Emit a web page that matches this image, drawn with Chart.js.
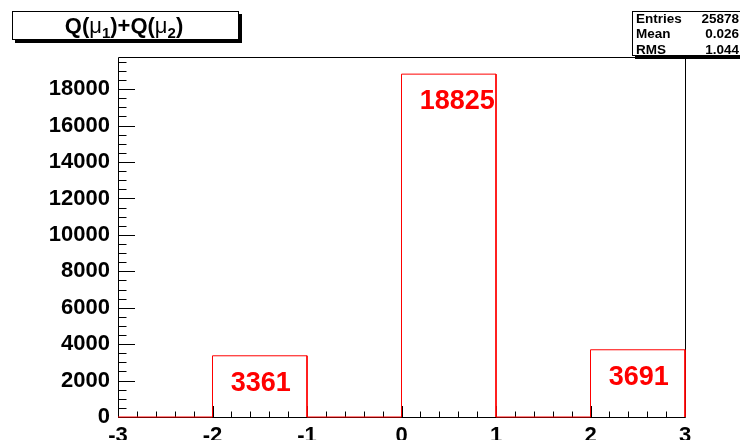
<!DOCTYPE html>
<html>
<head>
<meta charset="utf-8">
<script src="https://cdn.jsdelivr.net/npm/chart.js@4"></script>
<style>
html,body{margin:0;padding:0;background:#fff;overflow:hidden;}
canvas{display:block;}
</style>
</head>
<body>
<canvas id="c" width="740" height="440"></canvas>
<script>
// ---- data ----
const binEdges = [-3, -2, -1, 0, 1, 2, 3];
const binCounts = [0, 3361, 0, 18825, 0, 3691];
const xTickValues = [-3, -2, -1, 0, 1, 2, 3];
const yTickValues = [0, 2000, 4000, 6000, 8000, 10000, 12000, 14000, 16000, 18000];
const yMax = 19766;
const titleParts = [['Q(', 'main'], ['\u03bc', 'greek'], ['1', 'sub'], [')+Q(', 'main'], ['\u03bc', 'greek'], ['2', 'sub'], [')', 'main']];
const statsLabels = ['Entries', 'Mean', 'RMS'];
const statsValues = ['25878', '0.026', '1.044'];

// step outline points built from the bins
const stepPoints = [{x: binEdges[0], y: 0}];
for (let i = 0; i < binCounts.length; i++) {
  stepPoints.push({x: binEdges[i], y: binCounts[i]});
  stepPoints.push({x: binEdges[i + 1], y: binCounts[i]});
}
stepPoints.push({x: binEdges[binEdges.length - 1], y: 0});

const FONT = '"Liberation Sans", Arial, Helvetica, sans-serif';

const framePlugin = {
  id: 'frame',
  beforeDatasetsDraw(chart) {
    const {ctx, chartArea: a, scales: {x, y}} = chart;
    ctx.save();
    ctx.strokeStyle = '#000';
    ctx.lineWidth = 1;
    // frame
    ctx.beginPath();
    ctx.moveTo(a.left + 0.5, a.top + 0.5);
    ctx.lineTo(a.right + 0.5, a.top + 0.5);
    ctx.lineTo(a.right + 0.5, a.bottom + 0.5);
    ctx.lineTo(a.left + 0.5, a.bottom + 0.5);
    ctx.closePath();
    ctx.stroke();
    // y ticks (major + 3 minor)
    const yl = 17, xl = 11;
    ctx.beginPath();
    for (let v = 0; v <= yMax; v += 500) {
      const py = Math.round(y.getPixelForValue(v)) + 0.5;
      const len = (v % 2000 === 0) ? yl : yl / 2;
      ctx.moveTo(a.left, py);
      ctx.lineTo(a.left + len, py);
    }
    // x ticks (major + 4 minor)
    for (let i = 0; i <= 30; i++) {
      const v = -3 + i * 0.2;
      const px = Math.round(x.getPixelForValue(v)) + 0.5;
      const len = (i % 5 === 0) ? xl : xl / 2;
      ctx.moveTo(px, a.bottom);
      ctx.lineTo(px, a.bottom - len);
    }
    ctx.stroke();
    ctx.restore();
  },
  afterDatasetsDraw(chart) {
    const {ctx, scales: {x, y}} = chart;
    ctx.save();
    ctx.fillStyle = '#ff0000';
    ctx.font = 'bold 27px ' + FONT;
    ctx.textAlign = 'left';
    ctx.textBaseline = 'alphabetic';
    for (let i = 0; i < binCounts.length; i++) {
      if (!binCounts[i]) continue;
      const cx = x.getPixelForValue((binEdges[i] + binEdges[i + 1]) / 2);
      const top = y.getPixelForValue(binCounts[i]);
      ctx.fillText(String(binCounts[i]), cx - 29, top + 35);
    }
    ctx.restore();
  },
  afterDraw(chart) {
    const ctx = chart.ctx;
    ctx.save();
    // title box
    ctx.fillStyle = '#000';
    ctx.fillRect(15, 40, 227, 3);
    ctx.fillRect(239, 14, 3, 29);
    ctx.fillStyle = '#fff';
    ctx.fillRect(12, 11, 227, 29);
    ctx.strokeStyle = '#000';
    ctx.lineWidth = 1;
    ctx.strokeRect(12.5, 11.5, 226, 28);
    const fonts = {main: 'bold 22px ' + FONT, greek: '22px ' + FONT, sub: 'bold 15px ' + FONT};
    let total = 0;
    titleParts.forEach(([t, k]) => { ctx.font = fonts[k]; total += ctx.measureText(t).width; });
    let tx = 124 - total / 2;
    ctx.fillStyle = '#000';
    ctx.textBaseline = 'alphabetic';
    ctx.textAlign = 'left';
    titleParts.forEach(([t, k]) => {
      ctx.font = fonts[k];
      ctx.fillText(t, tx, k === 'sub' ? 38 : 33);
      tx += ctx.measureText(t).width;
    });
    // stats box
    ctx.fillStyle = '#000';
    ctx.fillRect(635, 56, 110, 3);
    ctx.fillStyle = '#fff';
    ctx.fillRect(632, 11, 120, 45);
    ctx.strokeRect(632.5, 11.5, 120, 44);
    ctx.fillStyle = '#000';
    ctx.font = 'bold 13.5px ' + FONT;
    const rows = [23.5, 39, 54.5];
    statsLabels.forEach((l, i) => {
      ctx.textAlign = 'left';
      ctx.fillText(l, 636, rows[i] - 1);
      ctx.textAlign = 'right';
      ctx.fillText(statsValues[i], 739, rows[i] - 1);
    });
    ctx.restore();
  }
};

new Chart(document.getElementById('c'), {
  type: 'line',
  data: {
    datasets: [{
      data: stepPoints,
      borderColor: '#ff0000',
      borderWidth: 1,
      pointRadius: 0,
      fill: false,
      tension: 0,
      clip: false
    }]
  },
  options: {
    responsive: false,
    devicePixelRatio: 1,
    animation: false,
    layout: {padding: {left: 0, top: 57, right: 55, bottom: 0}},
    plugins: {legend: {display: false}, tooltip: {enabled: false}, title: {display: false}},
    scales: {
      x: {
        type: 'linear',
        min: -3, max: 3,
        grid: {display: false, drawTicks: false},
        border: {display: false},
        afterFit: s => { s.height = 23; },
        afterBuildTicks: s => { s.ticks = xTickValues.map(v => ({value: v})); },
        ticks: {
          color: '#000',
          font: {family: FONT, size: 22, weight: 'bold'},
          padding: 6,
          maxRotation: 0,
          autoSkip: false,
          callback: v => String(v)
        }
      },
      y: {
        type: 'linear',
        min: 0, max: yMax,
        grid: {display: false, drawTicks: false},
        border: {display: false},
        afterFit: s => { s.width = 118; },
        afterBuildTicks: s => { s.ticks = yTickValues.map(v => ({value: v})); },
        ticks: {
          color: '#000',
          font: {family: FONT, size: 22, weight: 'bold'},
          padding: 8,
          autoSkip: false,
          callback: v => String(v)
        }
      }
    }
  },
  plugins: [framePlugin]
});
</script>
</body>
</html>
